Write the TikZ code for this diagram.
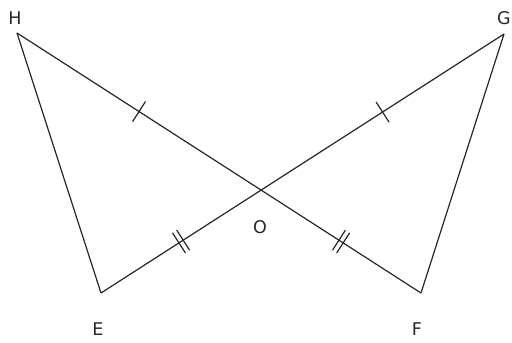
\documentclass[tikz,border=0pt]{standalone}
\usepackage{fontspec}
\setmainfont{DejaVu Sans}
\usetikzlibrary{decorations.markings}
\begin{document}
\begin{tikzpicture}[x=1pt,y=-1pt,
  seg/.style={line width=1.2pt,black!85},
  onetick/.style={postaction={decorate,decoration={markings,
     mark=at position 0.5 with {\draw[line width=1.2pt,black!85] (0,-12)--(0,12);}}}},
  twotick/.style={postaction={decorate,decoration={markings,
     mark=at position 0.5 with {\draw[line width=1.2pt,black!85] (-2.5,-12)--(-2.5,12) (2.5,-12)--(2.5,12);}}}},
  lbl/.style={font=\fontsize{17.5}{20}\selectfont,text=black!85,inner sep=0pt}]
\useasboundingbox (0,0) rectangle (512,343);
\coordinate (H) at (17,33);
\coordinate (G) at (504,34);
\coordinate (E) at (101,293);
\coordinate (F) at (421,293);
\coordinate (O) at (intersection of H--F and G--E);
\draw[seg] (H) -- (E);
\draw[seg] (G) -- (F);
\draw[seg,onetick] (H) -- (O);
\draw[seg,onetick] (G) -- (O);
\draw[seg,twotick] (O) -- (E);
\draw[seg,twotick] (O) -- (F);
\node[lbl] (lH) at (15,18) {H};
\node[lbl] (lG) at (504,18) {G};
\node[lbl] (lO) at (260,227) {O};
\node[lbl] (lE) at (98,329) {E};
\node[lbl] (lF) at (417,329) {F};
\end{tikzpicture}
\end{document}
